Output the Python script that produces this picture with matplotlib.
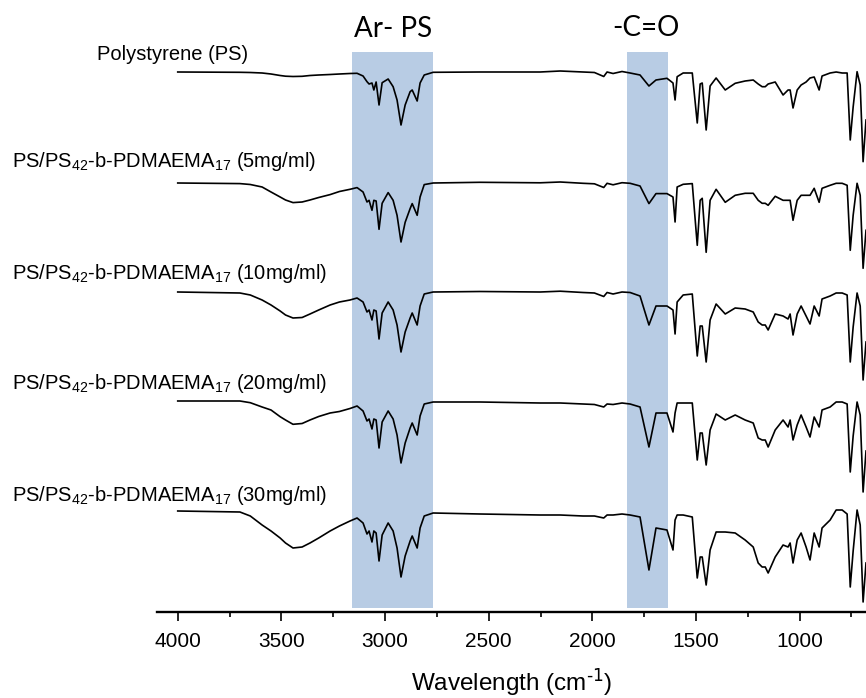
import matplotlib
matplotlib.use("Agg")
import matplotlib.pyplot as plt
from matplotlib.ticker import MultipleLocator

plt.rcParams['font.family'] = ['Liberation Sans', 'DejaVu Sans']
plt.rcParams['mathtext.default'] = 'regular'

# wavenumbers (cm-1) of the sampled points
wavenumber = [4000, 3700, 3650, 3593, 3550, 3506, 3480, 3444, 3400, 3362,
              3320, 3265, 3220, 3169, 3135, 3106,
              3087, 3077, 3063, 3054, 3043, 3029, 3014, 2985, 2961, 2942,
              2923, 2903, 2879, 2869, 2845, 2831, 2811, 2768, 2542, 2252,
              2155, 2045, 1990, 1945, 1929, 1900, 1857,
              1818, 1770, 1727, 1693, 1640, 1611, 1601,
              1591, 1562, 1518, 1494, 1480, 1470, 1451, 1432, 1403, 1359,
              1311, 1263, 1224, 1200, 1181, 1166, 1152, 1118, 1080, 1056,
              1046, 1032, 1012, 993, 969, 950, 930, 906, 892, 853,
              824, 795, 771, 756, 742, 723, 708, 694, 680]

# signal (a.u., 0 = top level, negative = absorption)
ps = [0, -0.3, -0.5, -1, -2, -3.5, -4.2, -4.5, -4.3, -3.5,
      -3, -2.5, -2, -1.5, -1.3, -4,
      -9.7, -12, -11, -18, -10, -33, -10.7, -7, -14.7, -28,
      -53, -33, -19.7, -18, -29, -11, -3, -0.3, 0, 0,
      1, 0, -0.5, -4.5, 0, -1.5, 0.5,
      -1, -3, -14, -8, -6.3, -11, -28,
      -4.7, -1, -1, -51, -12, -11, -58, -14, -6, -18,
      -11.3, -9, -8, -12, -14.7, -14.7, -12, -10, -23, -18,
      -18, -36, -18, -13, -10, -6, -5, -18, -4, -1,
      0, -1, -1, -68, -35, 0.3, -13, -89.7, -48]

ps5 = [0, -0.6, -1.5, -4, -9, -14, -17, -19.6, -19, -17,
       -14.5, -11.6, -8.5, -6.3, -4.6, -9,
       -19, -17.3, -27.3, -17.3, -18, -46.3, -20.3, -9.6, -17.3, -32.3,
       -59, -39.3, -25.6, -20.6, -32.3, -14, -1.6, 0, 0.7, 0.2,
       1, -0.3, -0.8, -4.5, -0.3, -1.8, 0.3,
       -0.3, -3, -20.6, -10.6, -10.6, -14, -39,
       -4, -1.3, -0.6, -62.3, -17.3, -15.3, -69.3, -17.3, -6.3, -19.3,
       -12.3, -10.3, -10.3, -17.3, -20.3, -20.3, -22.3, -13.3, -17.3, -17.3,
       -17.3, -37.3, -17.3, -12.3, -12.3, -12.3, -5.3, -19.3, -5.3, -2.3,
       -0.3, -0.3, -2.3, -67.3, -32.3, -0.3, -12.3, -85.3, -47.3]

ps10 = [0, -1, -3, -8, -13, -19, -23, -26, -25.5, -22,
        -18, -13, -10, -8, -6, -10,
        -20, -18, -28, -18, -19, -47, -21, -10, -18, -33,
        -60, -40, -26, -21, -33, -14, -2, 0, 0.5, 0,
        0.8, -0.5, -1, -4.5, -0.5, -2, 0,
        -0.5, -4, -33, -14, -14, -18, -42,
        -10, -3, -2, -64, -34, -34, -70, -28, -12, -22,
        -16, -17, -20, -30, -33, -33, -38, -22, -24, -27,
        -22, -43, -22, -14, -24, -32, -14, -24, -7, -4,
        -1, -1, -3, -70, -35, -1, -14, -88, -50]

ps20 = [0, 0, -1.7, -6, -9, -15.7, -19, -23.3, -22.5, -19,
        -15.5, -12, -10.5, -7.5, -5, -10,
        -20, -18, -28, -18, -19, -47, -21, -10, -18, -34,
        -62, -42, -27, -22, -34, -15, -3, -1, -1, -2,
        -2, -3, -3.5, -6, -3, -3.5, -2,
        -3, -6, -46, -12, -12, -31, -12,
        -2, -2, -2, -59, -32, -32, -64, -29, -13, -19,
        -14, -19, -22, -37, -39, -39, -46, -29, -19, -26,
        -19, -39, -24, -14, -26, -36, -16, -26, -9, -6,
        -1, -1, -3, -71, -35, -1, -14, -91, -50]

ps30 = [0, -1, -5, -14, -20, -27, -32, -37, -36, -32,
        -27, -20, -15, -10, -7, -12,
        -23, -20, -31, -20, -22, -50, -24, -12, -20, -37,
        -66, -45, -30, -25, -37, -17, -5, -2, -3, -4,
        -4, -5, -5, -7, -4, -4, -3,
        -4, -6, -59, -17, -19, -39, -9,
        -4, -4, -6, -67, -46, -46, -74, -39, -21, -21,
        -22, -29, -36, -52, -56, -56, -62, -46, -34, -36,
        -32, -52, -29, -22, -36, -49, -22, -36, -17, -9,
        1, 1, -3, -76, -40, 1, -14, -91, -52]

labels = ['Polystyrene (PS)',
          'PS/PS$_{42}$-b-PDMAEMA$_{17}$ (5mg/ml)',
          'PS/PS$_{42}$-b-PDMAEMA$_{17}$ (10mg/ml)',
          'PS/PS$_{42}$-b-PDMAEMA$_{17}$ (20mg/ml)',
          'PS/PS$_{42}$-b-PDMAEMA$_{17}$ (30mg/ml)']
series = [ps, ps5, ps10, ps20, ps30]
bands = [(3160, 2768, 'Ar- PS'), (1832, 1636, '-C=O')]

W, H = 866, 698
fig = plt.figure(figsize=(W / 100, H / 100), dpi=100)
ax = fig.add_axes([157 / W, (H - 612) / H, (W - 157) / W, 612 / H])

# vertical stacking offsets (layout)
offsets = [-72, -183, -292, -401, -511]
for vals, off in zip(series, offsets):
    ax.plot(wavenumber, [v + off for v in vals], color='black', lw=1.2,
            solid_joinstyle='round', zorder=3)

for lo, hi, name in bands:
    ax.axvspan(hi, lo, ymin=(612 - 608) / 612, ymax=(612 - 52) / 612,
               color='#b8cce4', lw=0, zorder=1)

ax.set_xlim(4100, 680)
ax.set_ylim(-612, 0)

for s in ['top', 'right', 'left']:
    ax.spines[s].set_visible(False)
ax.spines['bottom'].set_linewidth(1.7)
ax.set_yticks([])
ax.xaxis.set_minor_locator(MultipleLocator(250))
ax.set_xticks([4000, 3500, 3000, 2500, 2000, 1500, 1000])
ax.tick_params(axis='x', which='major', length=6.7, width=1.2, labelsize=15, pad=8)
ax.tick_params(axis='x', which='minor', length=3.3, width=1.2)
ax.set_xlabel('Wavelength (cm$^{\\text{-1}}$)', fontsize=17.5, labelpad=11)

# trace labels
label_pos = [(96.7, 60), (12, 167), (12, 279), (12, 389), (12, 501)]
for text, (px, py) in zip(labels, label_pos):
    fig.text(px / W, 1 - py / H, text, fontsize=14.5, ha='left', va='baseline')

# band labels
band_pos = [(393, 37), (646, 36)]
for (lo, hi, name), (px, py) in zip(bands, band_pos):
    fig.text(px / W, 1 - py / H, name, fontsize=20, ha='center', va='baseline',
             family=['Lato', 'DejaVu Sans'])

fig.savefig('out.png', dpi=100)
